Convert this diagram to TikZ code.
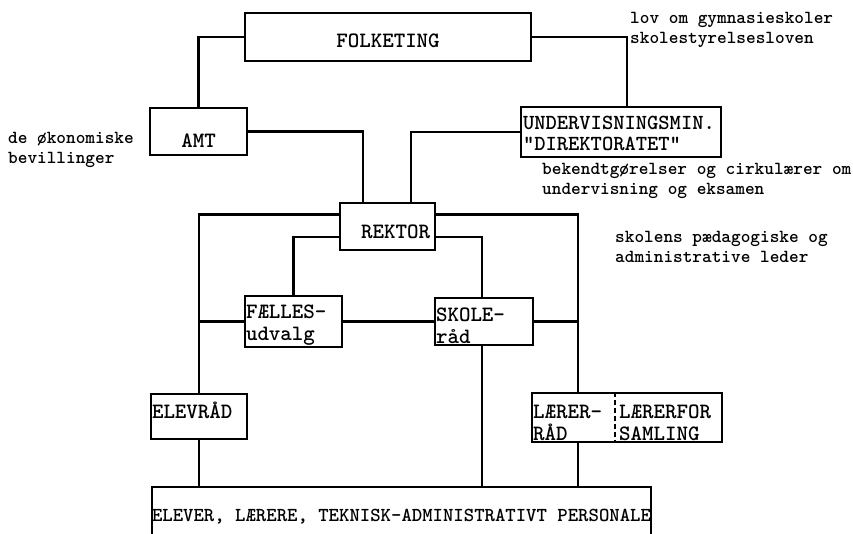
\documentclass[tikz,border=0pt]{standalone}
\usepackage{fontspec}
\usetikzlibrary{positioning}

\tikzset{
  box/.style={draw, line width=2.2pt, inner sep=1pt,
    font=\ttfamily\bfseries\fontsize{21.9}{22}\selectfont},
  note/.style={anchor=north west, inner sep=0pt, align=left,
    font=\ttfamily\bfseries\fontsize{18.4}{20.5}\selectfont},
  link/.style={line width=2.2pt},
}

\begin{document}
\begin{tikzpicture}[x=1pt,y=-1pt]
  \useasboundingbox (0,0) rectangle (853,533);
  \clip (0,0) rectangle (853,533);

  % boxes
  \node[box, minimum width=286pt, minimum height=48pt, text height=21.4pt] (folk) at (388,37) {FOLKETING};
  \node[box, minimum width=97pt, minimum height=47pt, text height=31.4pt] (amt) at (198.5,131.5) {AMT};
  \node[box, text width=196pt, minimum height=50pt, align=left, inner xsep=2pt, text height=16.4pt,
    font=\ttfamily\bfseries\fontsize{21.5}{20.5}\selectfont] (underv) at (621,132)
    {UNDERVISNINGSMIN.\\"DIREKTORATET"};
  \node[box, text width=85pt, inner xsep=5pt, minimum height=47pt, align=right, text height=24.4pt] (rektor) at (387.5,226.5) {REKTOR};
  \node[box, text width=95pt, minimum height=47pt, align=left, text height=21.4pt] (faelles) at (293.5,321.5) {FÆLLES-\\udvalg};
  \node[box, text width=96pt, minimum height=47pt, align=left, text height=21.4pt] (skole) at (484,321.5) {SKOLE-\\råd};
  \node[box, text width=94pt, minimum height=45pt, align=left, text height=4.4pt, text depth=0pt] (elevraad) at (199,416.5) {ELEVRÅD};
  \node[box, minimum width=190pt, minimum height=49pt] (laerer) at (627,417.5) {};
  \node[note, font=\ttfamily\bfseries\fontsize{21.9}{21.5}\selectfont] (lraad) at (533,405) {LÆRER-\\RÅD};
  \node[note, font=\ttfamily\bfseries\fontsize{21.9}{21.5}\selectfont] (lfor) at (619,405) {LÆRERFOR\\SAMLING};
  \draw[line width=1.3pt, dash pattern=on 5pt off 3pt] (laerer.north) ++(-12pt,0) -- ([xshift=-12pt]laerer.south);
  \node[inner sep=0pt, minimum width=499pt, minimum height=60pt,
    font=\ttfamily\bfseries\fontsize{19.8}{20}\selectfont] (alle) at (401.5,517)
    {ELEVER, LÆRERE, TEKNISK-ADMINISTRATIVT PERSONALE};
  \draw[link] (alle.south west) -- (alle.north west) -- (alle.north east) -- (alle.south east);

  % notes
  \node[note] (lov) at (630,12) {lov om gymnasieskoler\\skolestyrelsesloven};
  \node[note] (bev) at (8,132) {de økonomiske\\bevillinger};
  \node[note] (bek) at (542,163) {bekendtgørelser og cirkulærer om\\undervisning og eksamen};
  \node[note] (led) at (615,231) {skolens pædagogiske og\\administrative leder};

  % connections
  \coordinate (rrail) at ([xshift=-49pt]laerer.north);
  \draw[link] (folk.west) -| (amt.north);
  \draw[link] (folk.east) -| ([xshift=6pt]underv.north);
  \draw[link] (amt.east) -| ([xshift=-24.5pt]rektor.north);
  \draw[link] (underv.west) -| ([xshift=23.5pt]rektor.north);
  \draw[link] ([yshift=12pt]rektor.west) -| (elevraad.north);
  \draw[link] ([yshift=12pt]rektor.east) -| (rrail);
  \draw[link] ([yshift=-10.5pt]rektor.west) -| (faelles.north);
  \draw[link] ([yshift=-10.5pt]rektor.east) -| ([xshift=-2pt]skole.north);
  \draw[link] (faelles.west) -- (faelles.west -| elevraad.north);
  \draw[link] (faelles.east) -- (skole.west);
  \draw[link] (skole.east) -- (skole.east -| rrail);
  \draw[link] ([xshift=-2pt]skole.south) -- ([xshift=-2pt]skole.south |- alle.north);
  \draw[link] (elevraad.south) -- (elevraad.south |- alle.north);
  \draw[link] (rrail |- laerer.south) -- (rrail |- alle.north);
\end{tikzpicture}
\end{document}
